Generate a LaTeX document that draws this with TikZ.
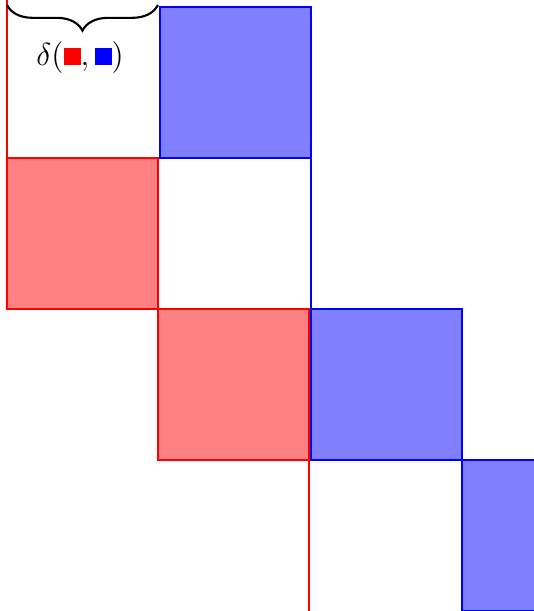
\documentclass[tikz,border=0pt]{standalone}
\usepackage{xcolor}
\usepackage{tikz}
\usetikzlibrary{decorations.pathreplacing, calc}
\tikzstyle{redcell}  = [draw=red, fill=red!50, line width=0.8pt]
\tikzstyle{bluecell} = [draw=blue, fill=blue!50, line width=0.8pt]
\tikzstyle{redline}  = [draw=red, line width=0.8pt]
\tikzstyle{blueline} = [draw=blue, line width=0.8pt]
\tikzstyle{bracket}  = [decorate, decoration={brace, mirror, amplitude=0.34cm}, thick]
\newcommand{\sq}[1]{\textcolor{#1}{\rule{6.4pt}{6.4pt}}}

\begin{document}
\begin{tikzpicture}[x=2cm, y=-2cm]
  \useasboundingbox (0,0) rectangle (3.536,4.046);
  \clip (0,0) rectangle (3.536,4.046);

  % red cells
  \begin{scope}[shift={(0.046,0.046)}]
    \draw[redcell] (0,1) rectangle (1,2);
    \draw[redcell] (1,2) rectangle (2,3);
    \draw[redline] (0,-0.1) -- (0,1);
    \draw[redline] (2,3) -- (2,4.1);
    \coordinate (brl) at (0,-0.013);
    \coordinate (brr) at (1,-0.013);
  \end{scope}

  % blue cells
  \begin{scope}[shift={(0.06,0.046)}]
    \draw[bluecell] (1,0) rectangle (2,1);
    \draw[bluecell] (2,2) rectangle (3,3);
    \draw[bluecell] (3,3) rectangle (4,4);
    \draw[blueline] (2,1) -- (2,2);
  \end{scope}

  % brace and label
  \draw[bracket] (brl) -- (brr);
  \node[font=\large, inner sep=0pt] (dlt) at (0.53,0.378)
    {$\delta(\sq{red},\sq{blue})$};
\end{tikzpicture}
\end{document}
